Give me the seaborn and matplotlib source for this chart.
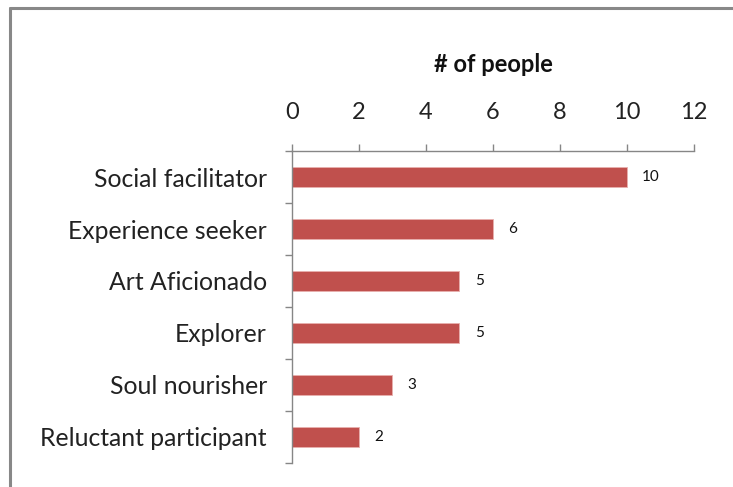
import matplotlib
matplotlib.use("Agg")
import matplotlib.pyplot as plt
import seaborn as sns
import pandas as pd
import numpy as np
from matplotlib.lines import Line2D

categories = ["Social facilitator", "Experience seeker", "Art Aficionado",
              "Explorer", "Soul nourisher", "Reluctant participant"]
counts = [10, 6, 5, 5, 3, 2]
x_ticks = [0, 2, 4, 6, 8, 10, 12]

sns.set_style("white")
plt.rcParams['font.family'] = ['Lato', 'DejaVu Sans']

df = pd.DataFrame({"type": categories, "people": counts})

fig = plt.figure(figsize=(7.33, 4.87), dpi=100)
ax = fig.add_axes([292/733, 1-463/487, (694-292)/733, (463-151)/487])

sns.barplot(data=df, x="people", y="type", orient="h", color="#C0504D",
            saturation=1, width=0.4, ax=ax, order=categories,
            edgecolor="#E8B0AE", linewidth=0.6)

ax.set_xlim(0, 12)
ax.set_ylim(len(categories)-0.5, -0.5)
ax.xaxis.tick_top()
ax.xaxis.set_label_position('top')
ax.set_xticks(x_ticks)
ax.set_xticklabels([str(t) for t in x_ticks], fontsize=17, color="#222222")
ax.tick_params(axis='x', direction='out', length=5, width=1, color="#868686",
               pad=15)
ax.set_xlabel("# of people", fontsize=17, fontweight='bold', labelpad=22,
              color="#111111")
ax.set_ylabel("")

ax.set_yticks(range(len(categories)))
ax.set_yticklabels(categories, fontsize=17.8, color="#222222")
ax.set_yticks(np.arange(-0.5, len(categories), 1.0), minor=True)
ax.tick_params(axis='y', which='major', left=False, length=0, pad=18)
ax.tick_params(axis='y', which='minor', left=True, direction='out', length=5,
               width=1, color="#868686")

for s in ['right', 'bottom']:
    ax.spines[s].set_visible(False)
for s in ['left', 'top']:
    ax.spines[s].set_color("#868686")
    ax.spines[s].set_linewidth(1)

ax.bar_label(ax.containers[0], labels=[str(v) for v in counts], padding=11,
             fontsize=11, color="#111111")

# figure border (left and top)
fig.add_artist(Line2D([10/733, 10/733], [0, 1-8/487], transform=fig.transFigure,
                      color="#888888", linewidth=2.2))
fig.add_artist(Line2D([10/733, 1], [1-8/487, 1-8/487], transform=fig.transFigure,
                      color="#888888", linewidth=2.2))

fig.savefig("out.png", dpi=100)
